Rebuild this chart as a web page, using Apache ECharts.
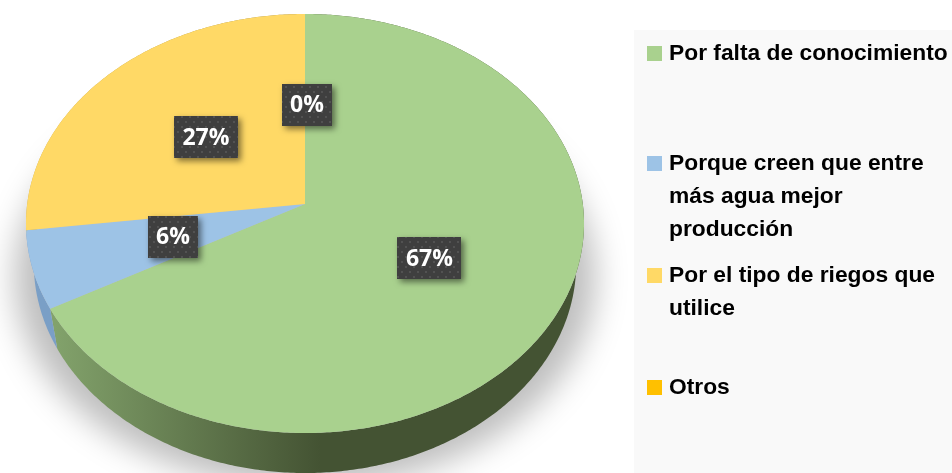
<!DOCTYPE html>
<html>
<head>
<meta charset="utf-8">
<title>Pie</title>
<style>
html, body { margin: 0; padding: 0; background: #fff; }
#main { width: 952px; height: 473px; }
</style>
<script src="https://cdn.jsdelivr.net/npm/echarts@6/dist/echarts.min.js"></script>
</head>
<body>
<div id="main"></div>
<script>
// datos
const categories = ['Por falta de conocimiento', 'Porque creen que entre más agua mejor producción', 'Por el tipo de riegos que utilice', 'Otros']
const legendLabels = ['Por falta de conocimiento', 'Porque creen que entre\nmás agua mejor\nproducción', 'Por el tipo de riegos que\nutilice', 'Otros']
const values = [67, 6, 27, 0]
const colors = ['#A9D18E', '#9DC3E6', '#FFD966', '#FFC000']
const sideColors = [['#82A26B', '#445333'], ['#7A9FC6', '#5A7CA0'], ['#C9AA50', '#8F7A3A'], ['#C99800', '#8F6C00']]

// geometria del disco en perspectiva
const cx = 305, cy = 204, radX = 277.8, radY = 207.7, persp = 0.0931
const depth = 40, lowScale = 0.972
const legendTops = [53.5, 163.5, 275.5, 387.5] // centro de la primera linea
const lineH = 33

const total = values.reduce((a, b) => a + b, 0)

function rim(angle, r) {
  const s = Math.sin(angle), y = -Math.cos(angle)
  const d = 1 - persp * r * y
  return [cx + radX * r * s / d, cy + radY * r * y / d]
}
function low(p) {
  return [cx + (p[0] - cx) * lowScale, p[1] + depth]
}
function arcPoints(a0, a1) {
  const n = Math.max(2, Math.ceil((a1 - a0) / 0.01))
  const pts = []
  for (let i = 0; i <= n; i++) pts.push(rim(a0 + (a1 - a0) * i / n, 1))
  return pts
}
function sliceAngles(i) {
  let before = 0
  for (let j = 0; j < i; j++) before += values[j]
  return [before / total * Math.PI * 2, (before + values[i]) / total * Math.PI * 2]
}

// trama de puntos de las etiquetas
const dots = document.createElement('canvas')
dots.width = 8
dots.height = 10
const dctx = dots.getContext('2d')
dctx.fillStyle = '#3f3f3f'
dctx.fillRect(0, 0, 8, 10)
dctx.fillStyle = '#525252'
dctx.fillRect(1, 1, 2, 2)
dctx.fillRect(5, 6, 2, 2)

const series = []
// sombra: el disco queda fuera del lienzo y solo se ve su desenfoque
const shadowShift = 2000
series.push({
  type: 'custom', name: 'sombra', coordinateSystem: 'none', z: 1, silent: true, data: [[0]],
  renderItem() {
    const pts = arcPoints(0, Math.PI * 2).map(p => [cx + (p[0] - cx) * 1.04 - shadowShift, p[1] + 54])
    return {
      type: 'polygon', shape: { points: pts },
      style: { fill: '#000', shadowBlur: 32, shadowColor: '#bebebe', shadowOffsetX: shadowShift }
    }
  }
})
// lados
series.push({
  type: 'custom', name: 'lados', coordinateSystem: 'none', z: 2, silent: true,
  data: values.map((v, i) => [i]),
  renderItem(params, api) {
    const i = api.value(0)
    if (!values[i]) return { type: 'group', children: [] }
    const a = sliceAngles(i)
    const up = arcPoints(a[0], a[1])
    const pts = up.concat(up.slice().reverse().map(low))
    return {
      type: 'polygon', shape: { points: pts },
      style: {
        fill: new echarts.graphic.LinearGradient(55, 0, 320, 0, [
          { offset: 0, color: sideColors[i][0] },
          { offset: 1, color: sideColors[i][1] }
        ], true)
      }
    }
  }
})
// caras superiores, una serie por categoria para la leyenda
categories.forEach((name, i) => {
  series.push({
    type: 'custom', name: name, coordinateSystem: 'none', z: 3, silent: true,
    itemStyle: { color: colors[i] },
    data: [[values[i]]],
    renderItem() {
      if (!values[i]) return { type: 'group', children: [] }
      const a = sliceAngles(i)
      return {
        type: 'polygon', shape: { points: [[cx, cy]].concat(arcPoints(a[0], a[1])) },
        style: { fill: colors[i] }
      }
    }
  })
})
// etiquetas
series.push({
  type: 'custom', name: 'etiquetas', coordinateSystem: 'none', z: 4, silent: true,
  data: values.map((v, i) => [i]),
  renderItem(params, api) {
    const i = api.value(0)
    const a = sliceAngles(i)
    const mid = values[i] ? (a[0] + a[1]) / 2 : a[0]
    const c = rim(mid, 0.5)
    c[0] += 2
    const text = values[i] + '%'
    const w = text.length > 2 ? 64 : 50, h = 42
    return {
      type: 'group',
      children: [{
        type: 'rect',
        shape: { x: Math.round(c[0] - w / 2), y: Math.round(c[1] - h / 2), width: w, height: h },
        style: {
          fill: { image: dots, repeat: 'repeat' },
          shadowBlur: 6, shadowOffsetX: 3, shadowOffsetY: 3, shadowColor: 'rgba(0,0,0,0.5)'
        }
      }, {
        type: 'text',
        style: {
          x: c[0], y: c[1] + 1, text: text, fill: '#fff', align: 'center', verticalAlign: 'middle',
          font: '700 23px "Open Sans"'
        }
      }]
    }
  }
})

const chart = echarts.init(document.getElementById('main'))
chart.setOption({
  animation: false,
  backgroundColor: '#fff',
  graphic: [{
    type: 'rect', silent: true, z: 0,
    shape: { x: 634, y: 30, width: 318, height: 443 },
    style: { fill: '#f9f9f9' }
  }],
  legend: categories.map((name, i) => {
    // lineas en blanco delante: el simbolo queda a la altura de la primera linea
    const lines = legendLabels[i].split('\n').length
    return {
      data: [name],
      left: 647,
      top: legendTops[i] - (2 * lines - 1) * lineH / 2,
      padding: 0,
      icon: 'rect',
      itemWidth: 15,
      itemHeight: 15,
      selectedMode: false,
      formatter: () => '\n'.repeat(lines - 1) + legendLabels[i],
      textStyle: {
        fontFamily: '"Liberation Sans"',
        fontWeight: 'bold',
        fontSize: 22.8,
        lineHeight: lineH,
        color: '#000',
        padding: [0, 0, 0, 2]
      }
    }
  }),
  series: series
})
</script>
</body>
</html>
